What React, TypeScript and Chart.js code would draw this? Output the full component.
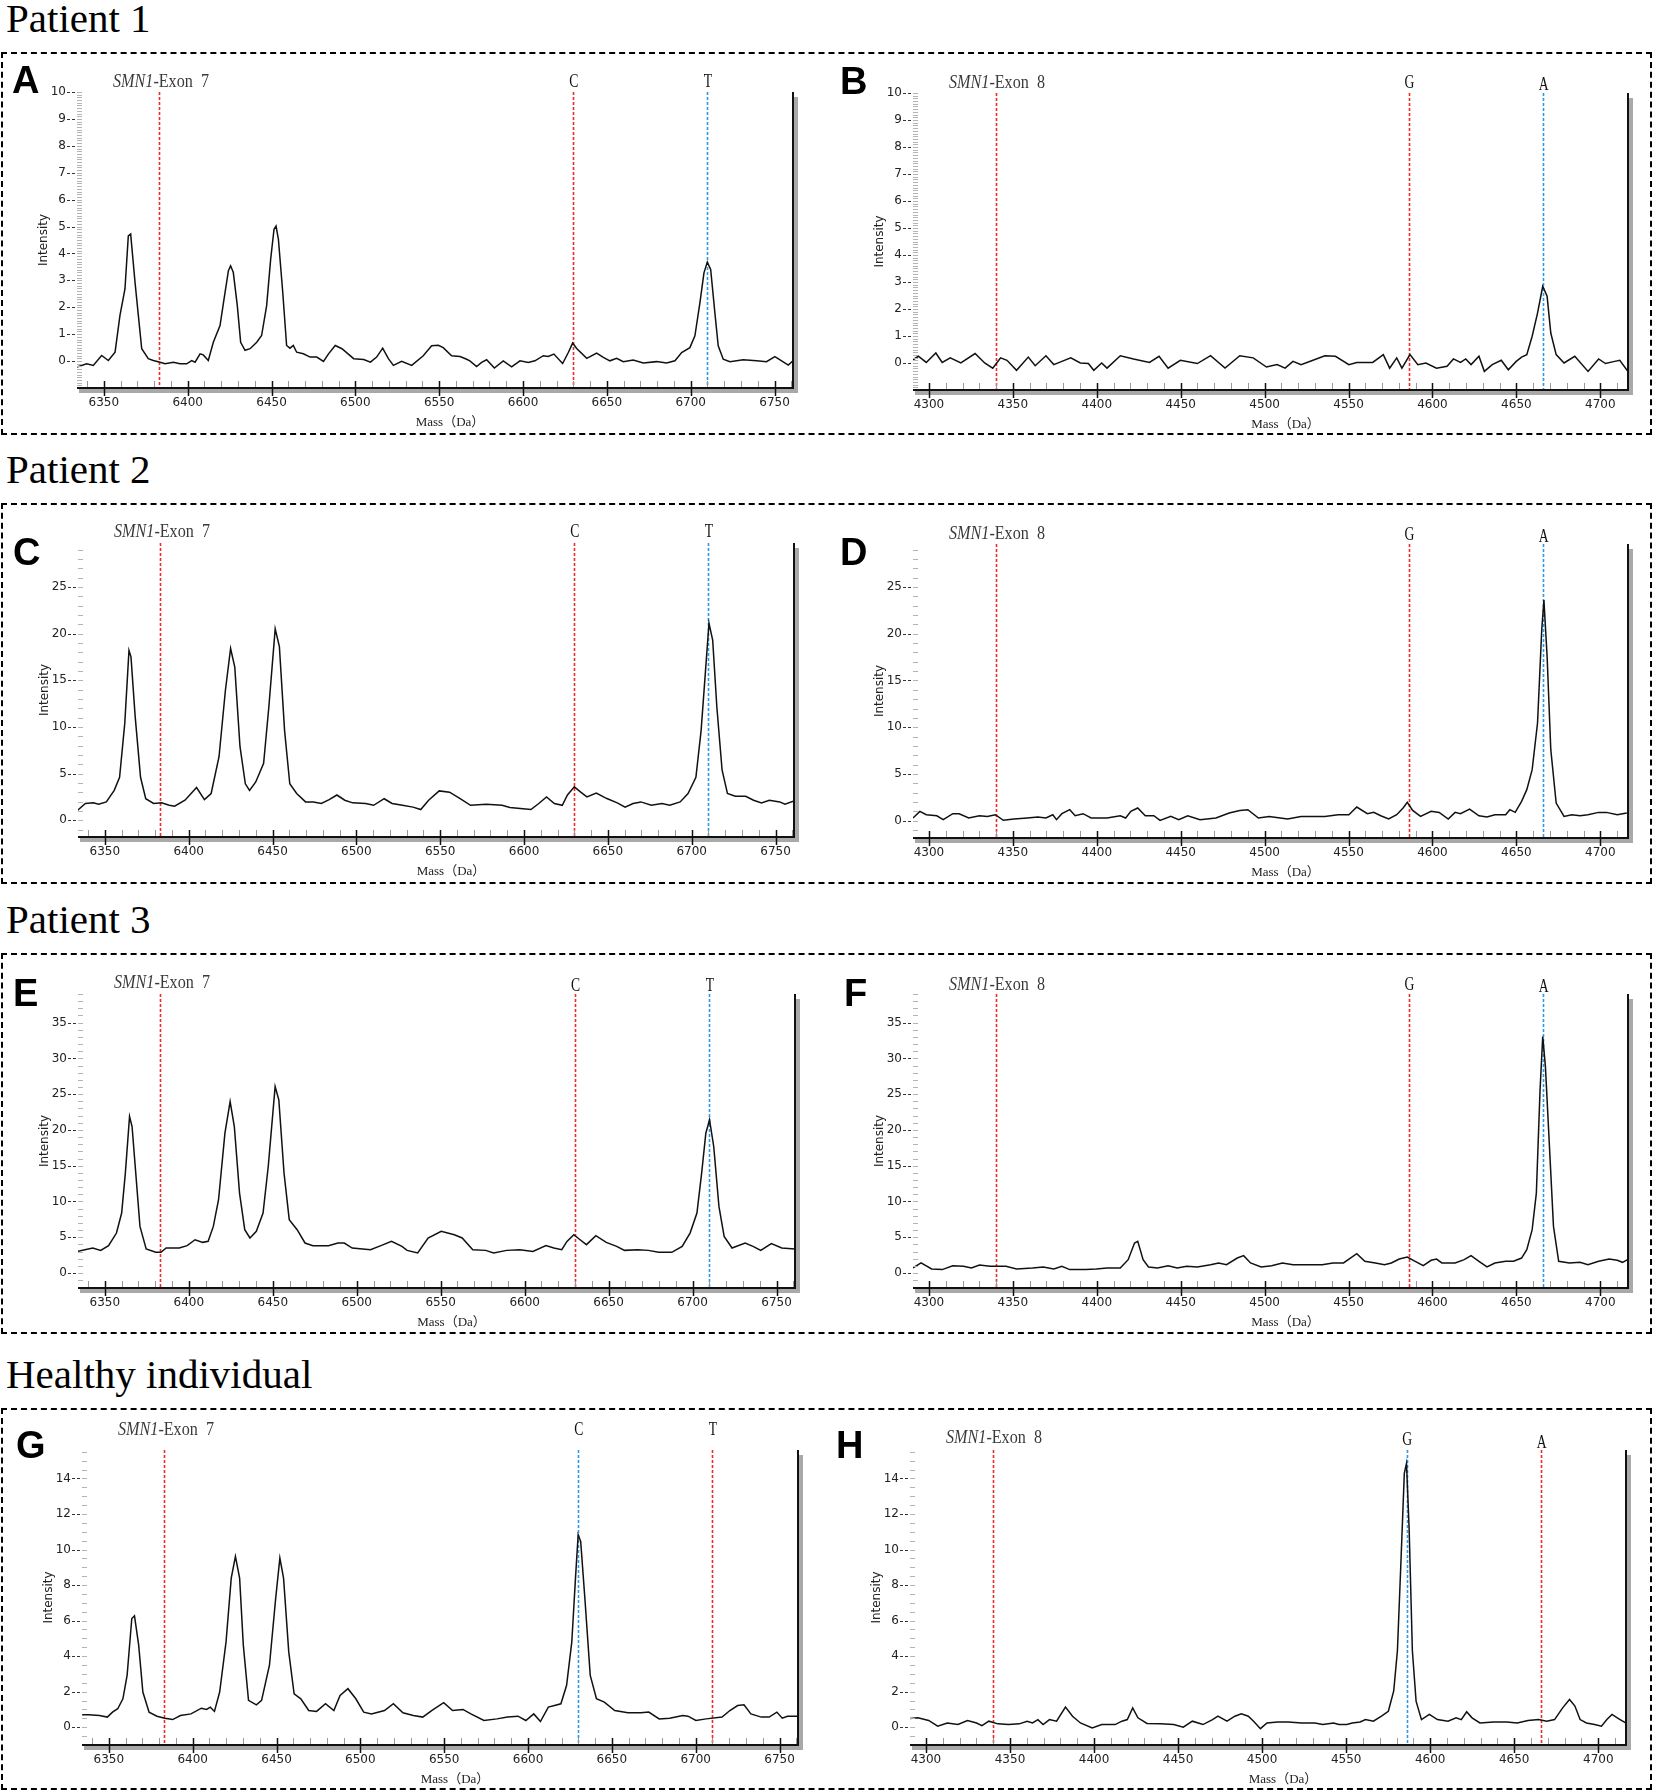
import { useEffect, useRef } from 'react';
import { Chart, registerables } from 'chart.js';

Chart.register(...registerables);

type Pt = [number, number];

// mass (Da) / intensity pairs
const spectrumA: Pt[] = [
  [6334, -0.22], [6339.8, -0.1], [6343.7, -0.16], [6348.7, 0.21], [6352.7, 0.02], [6356.7, 0.33], [6359.6, 1.69],
  [6362.6, 2.68], [6364.6, 4.65], [6366, 4.72], [6368.6, 2.93], [6370.6, 1.69], [6372.6, 0.46], [6376.5, 0.09],
  [6379.5, 0.02], [6383.5, -0.04], [6386.5, -0.1], [6391.5, -0.04], [6395.4, -0.1], [6399.4, -0.1], [6402.4, 0.02],
  [6404.4, -0.04], [6407.4, 0.27], [6409.3, 0.23], [6412.3, 0.02], [6415.3, 0.7], [6419.3, 1.32], [6421.7, 2.31],
  [6424.3, 3.36], [6425.6, 3.54], [6427.2, 3.3], [6429.6, 2.06], [6431.6, 0.7], [6434.2, 0.4], [6437.2, 0.46],
  [6441.2, 0.7], [6444.1, 0.95], [6447.1, 2.06], [6449.5, 3.79], [6451.5, 4.9], [6452.7, 5.02], [6454.1, 4.53],
  [6456.7, 2.56], [6459, 0.58], [6461, 0.48], [6463, 0.58], [6465, 0.33], [6469, 0.27], [6473, 0.15], [6477, 0.15],
  [6481, -0.01], [6484, 0.27], [6488, 0.58], [6492, 0.46], [6499, 0.09], [6505, 0.06], [6509, -0.04], [6512.7, 0.15],
  [6516.3, 0.48], [6519.7, 0.09], [6522.7, -0.16], [6527.6, -0.01], [6533.6, -0.16], [6540.5, 0.2], [6545.5, 0.57],
  [6549.5, 0.59], [6552.4, 0.5], [6557.4, 0.2], [6562.4, 0.17], [6566.4, 0.07], [6568.3, 0.01], [6572.3, -0.2],
  [6575.3, -0.05], [6578.3, 0.05], [6582.9, -0.26], [6588.2, 0.01], [6593.2, -0.21], [6598.2, 0.01], [6603.1, -0.05],
  [6607.1, 0.01], [6612.1, 0.2], [6615, 0.17], [6618.4, 0.26], [6623.6, -0.09], [6627, 0.32], [6629.6, 0.67],
  [6632, 0.47], [6638, 0.1], [6643.9, 0.3], [6647.9, 0.14], [6651.8, 0.01], [6655.8, 0.1], [6659.8, -0.02],
  [6665.7, 0.04], [6671.7, -0.07], [6679.6, -0.02], [6685.6, -0.07], [6690.6, 0.01], [6694.6, 0.32], [6699.5, 0.5],
  [6702.5, 0.94], [6705.5, 2.17], [6707.9, 3.28], [6709.9, 3.68], [6711.9, 3.41], [6714.4, 1.8], [6716.4, 0.57],
  [6719.4, 0.07], [6723.4, -0.02], [6731.3, 0.05], [6739.3, 0.01], [6745.2, -0.02], [6750.2, 0.17], [6754.2, 0.01],
  [6758.2, -0.15], [6761, 0.01],
];

const spectrumB: Pt[] = [
  [4290.5, 0.12], [4293.7, 0.25], [4298.4, 0.02], [4304.1, 0.37], [4307.9, 0.02], [4312.7, 0.19], [4319, 0],
  [4327.5, 0.35], [4333.2, 0], [4338, -0.19], [4342.7, 0.19], [4346.5, 0.1], [4352.2, -0.27], [4359.2, 0.22],
  [4363.3, -0.1], [4369.7, 0.27], [4374.4, -0.06], [4379.2, 0.06], [4384.5, 0.19], [4390.2, 0], [4395, -0.02],
  [4398.2, -0.27], [4402.9, 0], [4406.1, -0.19], [4414, 0.27], [4421.9, 0.15], [4431.4, 0.02], [4437.1, 0.25],
  [4442.5, -0.19], [4449.8, 0.1], [4459.9, -0.02], [4467.8, 0.27], [4476.4, -0.19], [4485.2, 0.27], [4493.2, 0.19],
  [4501.1, -0.15], [4507.4, -0.06], [4512.2, -0.19], [4516.9, 0.06], [4521.7, -0.06], [4529.6, 0.12], [4535.9, 0.27],
  [4542.2, 0.25], [4550.2, -0.06], [4554.9, 0.02], [4564.4, 0.02], [4570.7, 0.31], [4574.5, -0.19], [4578.7, 0.19],
  [4581.8, -0.19], [4586.6, 0.31], [4591.3, -0.06], [4596.1, 0], [4602.4, -0.19], [4608.7, -0.12], [4612.5, 0.15],
  [4616.7, 0.02], [4619.8, 0.15], [4623, -0.06], [4627.7, 0.25], [4630.9, -0.31], [4635.6, -0.06], [4641, 0.1],
  [4645.2, -0.25], [4649.9, 0.06], [4653.1, 0.22], [4656.2, 0.31], [4659.4, 0.99], [4662.6, 1.85], [4665.7, 2.84],
  [4668.3, 2.47], [4670.5, 1.11], [4673.7, 0.31], [4678.4, 0], [4684.8, 0.25], [4692.7, -0.31], [4699, 0.15],
  [4703.1, -0.02], [4708.5, 0.06], [4711.6, 0.1], [4716.4, -0.31],
];

const spectrumC: Pt[] = [
  [6333.8, 1.07], [6338.4, 1.79], [6343.1, 1.86], [6346.3, 1.71], [6350.9, 1.96], [6355.6, 3.2], [6358.8, 4.6],
  [6361.9, 10.4], [6364.4, 18.2], [6365.6, 17.5], [6368.1, 11.1], [6371.3, 4.6], [6374.4, 2.3], [6379.1, 1.8],
  [6383.8, 1.86], [6388.4, 1.6], [6391.6, 1.5], [6397.8, 2.14], [6404.7, 3.5], [6409.4, 2.2], [6413.4, 2.86],
  [6418.1, 6.8], [6421.9, 13.9], [6425, 18.4], [6427.5, 16.4], [6430.6, 7.9], [6433.8, 3.9], [6436.3, 3.2],
  [6440, 4.1], [6444.7, 6.1], [6447.8, 12.1], [6451.6, 20.5], [6454.1, 18.6], [6457.2, 9.6], [6460.3, 3.9],
  [6464.4, 2.86], [6469.7, 1.96], [6474.4, 1.96], [6479.1, 1.79], [6483.8, 2.2], [6488.4, 2.7], [6493.1, 2.14],
  [6497.8, 1.86], [6505.6, 1.79], [6510.3, 1.6], [6516.6, 2.3], [6521.3, 1.79], [6527.5, 1.6], [6533.8, 1.4],
  [6538.4, 1.14], [6543.1, 2.14], [6549.4, 3.14], [6555.6, 3.0], [6561.9, 2.3], [6568.1, 1.6], [6577.5, 1.71],
  [6586.9, 1.6], [6591.6, 1.36], [6597.8, 1.25], [6604.1, 1.14], [6608.8, 1.79], [6613.4, 2.5], [6618.1, 1.79],
  [6622.8, 1.6], [6625.9, 2.7], [6630, 3.57], [6633.8, 3.0], [6637.5, 2.5], [6643.1, 2.9], [6649.4, 2.32],
  [6655.6, 1.86], [6660.3, 1.4], [6665, 1.79], [6669.7, 1.96], [6675.9, 1.6], [6682.2, 1.79], [6686.9, 1.6],
  [6693.1, 1.96], [6697.8, 2.86], [6702.5, 4.6], [6705.6, 9.6], [6708.1, 15.7], [6710.3, 21.1], [6712.5, 19.3],
  [6715, 12.1], [6718.1, 5.4], [6721.3, 2.86], [6726, 2.57], [6732.2, 2.57], [6736.9, 2.14], [6741.6, 1.86],
  [6746.3, 2.14], [6752.5, 1.96], [6755.6, 1.71], [6761, 2.07],
];

const spectrumD: Pt[] = [
  [4290.5, 0.29], [4294.6, 1.0], [4298.4, 0.64], [4304.7, 0.53], [4308.5, 0.11], [4314.2, 0.75], [4318, 0.75],
  [4323.7, 0.29], [4330.1, 0.53], [4334.8, 0.46], [4339.6, 0.64], [4344.3, 0.04], [4350.7, 0.18], [4358.6, 0.29],
  [4364.9, 0.39], [4369.7, 0.29], [4373.8, 0.64], [4376, 0.11], [4379.2, 0.75], [4383.9, 1.18], [4387.1, 0.53],
  [4391.8, 0.75], [4396.6, 0.29], [4406.1, 0.29], [4414, 0.53], [4417.2, 0.29], [4420.3, 1.0], [4424.4, 1.36],
  [4428.9, 0.53], [4434, 0.53], [4437.7, 0.04], [4444.1, 0.46], [4448.8, 0.11], [4454.2, 0.53], [4461.5, 0.11],
  [4471, 0.29], [4478.9, 0.82], [4485.2, 1.1], [4490, 1.18], [4496.3, 0.29], [4502.7, 0.46], [4513.7, 0.18],
  [4521.7, 0.46], [4535.9, 0.46], [4543.8, 0.64], [4550.2, 0.64], [4554.9, 1.46], [4561.2, 0.75], [4565, 0.89],
  [4569.2, 0.53], [4573.9, 0.18], [4578.7, 0.64], [4582.5, 1.36], [4585, 1.96], [4588.2, 1.1], [4592.9, 0.46],
  [4599.2, 1.0], [4604, 0.89], [4609.4, 0.18], [4613.5, 0.89], [4616.7, 0.75], [4622.1, 1.25], [4627.7, 0.53],
  [4632.5, 0.39], [4637.2, 0.64], [4643.6, 0.64], [4646.1, 1.18], [4649.3, 0.89], [4653.1, 2.07], [4656.2, 3.32],
  [4659.4, 5.46], [4662.6, 10.45], [4665.1, 20.4], [4666.4, 23.6], [4668.3, 17.6], [4670.5, 7.6], [4673.7, 1.89],
  [4678.4, 0.46], [4683.1, 0.64], [4687.9, 0.53], [4692.6, 0.64], [4699, 0.89], [4703.7, 0.89], [4710.1, 0.64],
  [4715.8, 0.82],
];

const spectrumE: Pt[] = [
  [6333.5, 3.02], [6338.1, 3.26], [6342.8, 3.49], [6347.5, 3.16], [6352.2, 3.82], [6356.9, 5.58], [6360, 8.38],
  [6362.2, 13.96], [6364.7, 21.87], [6366.2, 20.47], [6368.4, 13.96], [6370.9, 6.51], [6374.6, 3.35], [6380.3, 2.89],
  [6383.4, 2.89], [6386.5, 3.49], [6394.3, 3.49], [6399, 3.82], [6403.7, 4.65], [6408.3, 4.28], [6411.5, 4.42],
  [6414.6, 6.51], [6417.7, 10.24], [6421.5, 19.54], [6424.6, 23.96], [6427.1, 20.47], [6430.2, 11.17], [6433.3, 6.05],
  [6436.4, 4.89], [6440.2, 5.82], [6444.2, 8.38], [6447.3, 14.89], [6451.4, 26.06], [6453.6, 24.2], [6456.7, 13.96],
  [6459.8, 7.45], [6464.5, 6.05], [6469.2, 4.19], [6473.9, 3.82], [6483.2, 3.82], [6488.8, 4.19], [6492.6, 4.19],
  [6497.3, 3.49], [6508.2, 3.26], [6514.4, 3.82], [6520.7, 4.42], [6526.9, 3.72], [6530, 3.16], [6536.3, 2.79],
  [6542.5, 4.89], [6550.3, 5.82], [6558.1, 5.35], [6562.8, 4.89], [6569.1, 3.26], [6576.8, 3.16], [6581.5, 2.79],
  [6589.3, 3.16], [6597.1, 3.26], [6604.9, 3.02], [6612.7, 3.82], [6617.4, 3.49], [6622.1, 3.26], [6625.2, 4.42],
  [6629.3, 5.35], [6633, 4.65], [6636.8, 3.96], [6642.4, 5.21], [6648.6, 4.28], [6654.8, 3.72], [6659.5, 3.16],
  [6667.3, 3.26], [6673.6, 3.16], [6679.8, 2.89], [6687.6, 2.89], [6693.8, 3.72], [6698.5, 5.58], [6702.6, 8.38],
  [6705.4, 13.96], [6707.9, 19.54], [6710.1, 21.4], [6712.6, 17.68], [6715.7, 9.31], [6718.8, 5.12], [6723.5, 3.49],
  [6731.3, 4.19], [6736, 3.72], [6740.6, 3.16], [6746.9, 4.1], [6753.1, 3.49], [6761, 3.35],
];

const spectrumF: Pt[] = [
  [4290.5, 0.7], [4295.3, 1.4], [4301.6, 0.56], [4307.9, 0.47], [4314.2, 1.02], [4320.6, 0.93], [4325.3, 0.7],
  [4330.1, 1.12], [4336.4, 0.93], [4345.9, 0.93], [4352.2, 0.56], [4361.7, 0.7], [4368.1, 0.84], [4374.4, 0.56],
  [4379.2, 0.93], [4383.9, 0.47], [4393.4, 0.47], [4399.7, 0.56], [4406.1, 0.7], [4414, 0.7], [4418.7, 1.86],
  [4422.5, 4.19], [4424.4, 4.42], [4427.6, 1.86], [4430.8, 0.84], [4436.2, 0.7], [4442.5, 1.02], [4447.9, 0.7],
  [4453.6, 0.93], [4459.9, 0.84], [4467.8, 1.16], [4472.6, 1.4], [4477.3, 1.16], [4483.7, 2.09], [4487.5, 2.42],
  [4491.6, 1.4], [4497.9, 0.84], [4504.2, 1.02], [4510.6, 1.4], [4516.9, 1.16], [4526.4, 1.16], [4534.3, 1.16],
  [4540.7, 1.4], [4547, 1.4], [4551.1, 2.09], [4554.9, 2.7], [4559.7, 1.63], [4566, 1.4], [4571.4, 1.16],
  [4575.5, 1.4], [4580.2, 1.95], [4585, 2.23], [4589.7, 1.63], [4594.5, 1.02], [4599.2, 1.77], [4602.4, 1.95],
  [4605.6, 1.4], [4613.5, 1.4], [4618.9, 1.86], [4623, 2.42], [4627.7, 1.63], [4632.5, 0.84], [4637.2, 1.4],
  [4643.6, 1.63], [4648.3, 1.63], [4653.1, 2.09], [4656.2, 3.26], [4659.4, 6.05], [4661.9, 11.17], [4664.1, 25.59],
  [4665.7, 33.04], [4667.3, 28.85], [4669.5, 18.61], [4672.1, 6.51], [4675.2, 1.63], [4681.6, 1.4], [4687.9, 1.49],
  [4692.6, 1.16], [4699, 1.63], [4705.3, 1.95], [4710.1, 1.77], [4713.2, 1.49], [4716.3, 1.86],
];

const spectrumG: Pt[] = [
  [6334.1, 0.7], [6338.1, 0.7], [6344.4, 0.66], [6349.1, 0.57], [6352.2, 0.85], [6355.3, 1.04], [6358.4, 1.6],
  [6360.9, 2.92], [6363.7, 6.12], [6365.3, 6.27], [6367.8, 4.62], [6370.3, 1.98], [6374, 0.85], [6378.7, 0.62],
  [6383.4, 0.51], [6388.1, 0.43], [6392.7, 0.66], [6399, 0.75], [6405.2, 1.07], [6408.3, 1.0], [6410.5, 1.13],
  [6413, 0.89], [6416.1, 1.98], [6419.9, 4.8], [6423, 8.39], [6425.5, 9.61], [6428, 8.39], [6430.2, 4.62],
  [6433.3, 1.51], [6438, 1.26], [6441.1, 1.51], [6445.8, 3.49], [6449.5, 7.25], [6452, 9.52], [6454.2, 8.39],
  [6457.3, 4.24], [6460.5, 1.88], [6464.5, 1.6], [6469.2, 0.94], [6473.9, 0.89], [6479.2, 1.32], [6484.2, 0.94],
  [6487.9, 1.79], [6492.6, 2.17], [6497.3, 1.6], [6502, 0.85], [6506.6, 0.75], [6514.4, 0.94], [6519.7, 1.32],
  [6525.4, 0.81], [6531.6, 0.66], [6537.2, 0.57], [6542.5, 0.94], [6549.7, 1.38], [6555, 0.94], [6561.2, 1.0],
  [6565.9, 0.75], [6573.7, 0.38], [6581.5, 0.47], [6587.8, 0.57], [6594, 0.62], [6598.7, 0.38], [6603.4, 0.75],
  [6607.4, 0.32], [6612.1, 1.13], [6615.8, 1.22], [6619.6, 1.32], [6623, 2.36], [6626.1, 4.8], [6628.3, 8.39],
  [6629.9, 10.83], [6631.4, 10.46], [6633.9, 7.25], [6637.1, 2.92], [6640.8, 1.6], [6645.5, 1.41], [6651.7, 0.94],
  [6659.5, 0.81], [6667.3, 0.81], [6672, 0.85], [6678.2, 0.47], [6684.5, 0.51], [6692.3, 0.66], [6695.4, 0.62],
  [6700.1, 0.38], [6706.3, 0.47], [6715.7, 0.57], [6720.4, 0.94], [6725, 1.22], [6728.8, 1.26], [6732.9, 0.75],
  [6739.1, 0.57], [6743.8, 0.57], [6748.4, 0.85], [6751.6, 0.51], [6754.7, 0.62], [6761, 0.62],
];

const spectrumH: Pt[] = [
  [4290.5, 0.49], [4295.2, 0.53], [4301.6, 0.38], [4307, 0.06], [4312.7, 0.24], [4319, 0.15], [4324.7, 0.38],
  [4330.1, 0.24], [4333.3, 0.09], [4337.4, 0.34], [4342.8, 0.19], [4349.1, 0.15], [4355.5, 0.19], [4360.2, 0.34],
  [4363.4, 0.24], [4366.6, 0.43], [4369.7, 0.15], [4373.5, 0.43], [4377.7, 0.34], [4383, 1.13], [4387.2, 0.62],
  [4391.9, 0.24], [4398.9, -0.04], [4404.6, 0.15], [4412.5, 0.15], [4416.6, 0.34], [4419.8, 0.43], [4423, 1.09],
  [4426.1, 0.53], [4431.5, 0.21], [4439.5, 0.19], [4447.4, 0.15], [4453.1, 0], [4458.5, 0.34], [4464.8, 0.15],
  [4470.5, 0.43], [4473.7, 0.62], [4479.1, 0.34], [4483.8, 0.62], [4487.6, 0.75], [4491.8, 0.62], [4494.9, 0.34],
  [4499, -0.08], [4502.9, 0.24], [4509.2, 0.3], [4515.5, 0.3], [4523.5, 0.24], [4531.4, 0.24], [4536.1, 0.15],
  [4542.5, 0.24], [4545.6, 0.15], [4550.4, 0.15], [4553.6, 0.24], [4558.3, 0.3], [4561.5, 0.43], [4566.2, 0.34],
  [4571, 0.62], [4575.1, 0.9], [4578.3, 2.04], [4580.5, 4.3], [4582.7, 9.57], [4584.6, 14.28], [4585.9, 14.85],
  [4587.5, 11.08], [4589.4, 4.3], [4591.6, 1.47], [4594.8, 0.43], [4599.5, 0.72], [4604.3, 0.43], [4610.6, 0.34],
  [4615.4, 0.53], [4618.5, 0.43], [4621.7, 0.87], [4624.9, 0.53], [4629.6, 0.24], [4637.6, 0.3], [4645.5, 0.3],
  [4651.8, 0.24], [4658.2, 0.38], [4664.5, 0.43], [4669.3, 0.34], [4674, 0.43], [4678.8, 1.09], [4682.9, 1.56],
  [4686.1, 1.19], [4689.2, 0.43], [4693, 0.24], [4697.8, 0.15], [4701.9, 0.06], [4705.1, 0.43], [4708.2, 0.72],
  [4712, 0.49], [4716.3, 0.24],
];

const exon7Ticks = [6350, 6400, 6450, 6500, 6550, 6600, 6650, 6700, 6750];
const exon8Ticks = [4300, 4350, 4400, 4450, 4500, 4550, 4600, 4650, 4700];
const exon7Range = [6334, 6761];
const exon8Range = [4290.5, 4716.5];
const exon7Markers = [6383, 6630, 6710];
const exon8Markers = [4340, 4586, 4666];
const exon7Alleles = ['', 'C', 'T'];
const exon8Alleles = ['', 'G', 'A'];

const yTicks10 = [0, 1, 2, 3, 4, 5, 6, 7, 8, 9, 10];
const yTicks25 = [0, 5, 10, 15, 20, 25];
const yTicks35 = [0, 5, 10, 15, 20, 25, 30, 35];
const yTicks14 = [0, 2, 4, 6, 8, 10, 12, 14];

const RED = '#ee2a2a';
const BLUE = '#2b9ae6';

const sections = [
  { text: 'Patient 1', top: -2 },
  { text: 'Patient 2', top: 449 },
  { text: 'Patient 3', top: 899 },
  { text: 'Healthy individual', top: 1354 },
];
const boxes = [
  { top: 52, height: 383 },
  { top: 503, height: 381 },
  { top: 953, height: 381 },
  { top: 1408, height: 382 },
];

type Panel = {
  letter: string;
  exon: 7 | 8;
  data: Pt[];
  yTicks: number[];
  yMin: number;
  yMax: number;
  yMinor: number;
  colors: string[];
  left: number;
  top: number;
  width: number;
  height: number;
  titleGap: number;
  labelGaps: number[];
  letterX: number;
  letterY: number;
};

const panels: Panel[] = [
  { letter: 'A', exon: 7, data: spectrumA, yTicks: yTicks10, yMin: -1, yMax: 10, yMinor: 0.1, colors: [RED, RED, BLUE],
    left: 77, top: 92, width: 716, height: 296, titleGap: 5, labelGaps: [0, 5, 5], letterX: 12, letterY: 66 },
  { letter: 'B', exon: 8, data: spectrumB, yTicks: yTicks10, yMin: -1, yMax: 10, yMinor: 0.1, colors: [RED, RED, BLUE],
    left: 913, top: 93, width: 715, height: 297, titleGap: 5, labelGaps: [0, 5, 3], letterX: 840, letterY: 67 },
  { letter: 'C', exon: 7, data: spectrumC, yTicks: yTicks25, yMin: -1.8, yMax: 29.7, yMinor: 1, colors: [RED, RED, BLUE],
    left: 78, top: 543, width: 716, height: 294, titleGap: 6, labelGaps: [0, 6, 6], letterX: 13, letterY: 538 },
  { letter: 'D', exon: 8, data: spectrumD, yTicks: yTicks25, yMin: -1.85, yMax: 29.6, yMinor: 1, colors: [RED, RED, BLUE],
    left: 913, top: 544, width: 715, height: 294, titleGap: 5, labelGaps: [0, 4, 2], letterX: 840, letterY: 538 },
  { letter: 'E', exon: 7, data: spectrumE, yTicks: yTicks35, yMin: -2.1, yMax: 39, yMinor: 1, colors: [RED, RED, BLUE],
    left: 78, top: 994, width: 717, height: 294, titleGap: 6, labelGaps: [0, 3, 3], letterX: 13, letterY: 979 },
  { letter: 'F', exon: 8, data: spectrumF, yTicks: yTicks35, yMin: -2.1, yMax: 39, yMinor: 1, colors: [RED, RED, BLUE],
    left: 913, top: 994, width: 715, height: 294, titleGap: 4, labelGaps: [0, 4, 2], letterX: 844, letterY: 979 },
  { letter: 'G', exon: 7, data: spectrumG, yTicks: yTicks14, yMin: -1, yMax: 15.6, yMinor: 0.5, colors: [RED, BLUE, RED],
    left: 82, top: 1450, width: 716, height: 295, titleGap: 15, labelGaps: [0, 15, 15], letterX: 16, letterY: 1431 },
  { letter: 'H', exon: 8, data: spectrumH, yTicks: yTicks14, yMin: -1, yMax: 15.6, yMinor: 0.5, colors: [RED, BLUE, RED],
    left: 910, top: 1450, width: 716, height: 295, titleGap: 7, labelGaps: [0, 5, 2], letterX: 836, letterY: 1431 },
];

const PAD_L = 60;
const PAD_R = 14;
const PAD_T = 60;
const PAD_B = 48;

const tickFont = { family: '"DejaVu Sans", sans-serif', size: 12 };

function decorPlugin(p: Panel) {
  const markers = p.exon === 7 ? exon7Markers : exon8Markers;
  const alleles = p.exon === 7 ? exon7Alleles : exon8Alleles;
  const xTicks = p.exon === 7 ? exon7Ticks : exon8Ticks;
  const seg = (ctx, x1, y1, x2, y2) => {
    ctx.beginPath();
    ctx.moveTo(x1, y1);
    ctx.lineTo(x2, y2);
    ctx.stroke();
  };
  return {
    id: 'decor',
    beforeDatasetsDraw(chart) {
      const { ctx, chartArea: { left, top, bottom }, scales: { x } } = chart;
      ctx.save();
      ctx.lineWidth = 1.6;
      ctx.setLineDash([3, 2]);
      markers.forEach((m, i) => {
        const px = Math.round(x.getPixelForValue(m)) + 0.5;
        ctx.strokeStyle = p.colors[i];
        seg(ctx, px, top, px, bottom);
      });
      ctx.setLineDash([]);
      ctx.fillStyle = '#111';
      ctx.font = '19px "Liberation Serif", serif';
      ctx.textAlign = 'center';
      ctx.textBaseline = 'alphabetic';
      markers.forEach((m, i) => {
        if (!alleles[i]) return;
        ctx.save();
        ctx.translate(x.getPixelForValue(m) + 0.5, top - p.labelGaps[i]);
        ctx.scale(0.72, 1);
        ctx.fillText(alleles[i], 0, 0);
        ctx.restore();
      });
      // gene / exon title, narrow serif
      ctx.save();
      ctx.translate(left + 36, top - p.titleGap);
      ctx.scale(0.85, 1);
      ctx.textAlign = 'left';
      ctx.fillStyle = '#3a3a3a';
      ctx.font = 'italic 19px "Liberation Serif", serif';
      ctx.fillText('SMN1', 0, 0);
      const w = ctx.measureText('SMN1').width;
      ctx.font = '19px "Liberation Serif", serif';
      ctx.fillText('-Exon  ' + p.exon, w, 0);
      ctx.restore();
      ctx.restore();
    },
    afterDatasetsDraw(chart) {
      const { ctx, chartArea: { left, right, top, bottom }, scales: { x, y } } = chart;
      ctx.save();
      // frame shadows
      ctx.fillStyle = '#a9a9a9';
      ctx.fillRect(left + 2, bottom + 1, right - left + 3, 4);
      ctx.fillRect(right + 1, top + 5, 4, bottom - top);
      // y minor dashes
      ctx.strokeStyle = '#b4b4b4';
      ctx.lineWidth = 1;
      const k0 = Math.ceil(p.yMin / p.yMinor - 1e-6);
      const k1 = Math.floor(p.yMax / p.yMinor + 1e-6);
      for (let k = k0; k <= k1; k++) {
        const py = Math.round(y.getPixelForValue(k * p.yMinor)) + 0.5;
        seg(ctx, left, py, left + 5, py);
      }
      // y major ticks
      ctx.strokeStyle = '#333';
      ctx.lineWidth = 1.2;
      ctx.setLineDash([3, 2]);
      p.yTicks.forEach((v) => {
        const py = Math.round(y.getPixelForValue(v)) + 0.5;
        seg(ctx, left - 10, py, left, py);
      });
      ctx.setLineDash([]);
      // x minor ticks
      ctx.strokeStyle = '#999';
      ctx.lineWidth = 1;
      for (let m = Math.ceil(x.min / 10) * 10; m <= x.max; m += 10) {
        const px = Math.round(x.getPixelForValue(m)) + 0.5;
        seg(ctx, px, bottom - 7, px, bottom);
      }
      // x major ticks
      ctx.strokeStyle = '#111';
      ctx.lineWidth = 1.5;
      xTicks.forEach((m) => {
        const px = Math.round(x.getPixelForValue(m)) + 0.5;
        seg(ctx, px, bottom - 7, px, bottom + 8);
      });
      // axis and right border
      ctx.lineWidth = 2;
      seg(ctx, left, bottom, right + 1, bottom);
      seg(ctx, right, top, right, bottom);
      // x title
      ctx.fillStyle = '#222';
      ctx.font = '13px "Liberation Serif", "Noto Sans CJK SC", serif';
      ctx.textAlign = 'center';
      ctx.textBaseline = 'alphabetic';
      ctx.fillText('Mass（Da）', (left + right) / 2 + 15, bottom + 38);
      ctx.restore();
    },
  };
}

function SpectrumPanel({ panel }: { panel: Panel }) {
  const canvasRef = useRef(null);
  const w = panel.width + PAD_L + PAD_R;
  const h = panel.height + PAD_T + PAD_B;

  useEffect(() => {
    const range = panel.exon === 7 ? exon7Range : exon8Range;
    const xTicks = panel.exon === 7 ? exon7Ticks : exon8Ticks;
    const chart = new Chart(canvasRef.current, {
      type: 'line',
      data: {
        datasets: [{
          data: panel.data.map(([m, v]) => ({ x: m, y: v })),
          borderColor: '#111',
          borderWidth: 1.5,
          pointRadius: 0,
          tension: 0,
          fill: false,
        }],
      },
      options: {
        animation: false,
        responsive: false,
        maintainAspectRatio: false,
        layout: { padding: { top: PAD_T, right: PAD_R, left: 0, bottom: 0 } },
        plugins: { legend: { display: false }, tooltip: { enabled: false } },
        scales: {
          x: {
            type: 'linear',
            min: range[0],
            max: range[1],
            afterBuildTicks: (s) => { s.ticks = xTicks.map((v) => ({ value: v })); },
            afterFit: (s) => { s.height = PAD_B; },
            grid: { display: false, drawTicks: false },
            border: { display: false },
            ticks: {
              autoSkip: false,
              maxRotation: 0,
              padding: 8,
              color: '#222',
              font: tickFont,
              callback: (v) => String(v),
            },
          },
          y: {
            type: 'linear',
            min: panel.yMin,
            max: panel.yMax,
            afterBuildTicks: (s) => { s.ticks = panel.yTicks.map((v) => ({ value: v })); },
            afterFit: (s) => { s.width = PAD_L; },
            grid: { display: false, drawTicks: false },
            border: { display: false },
            ticks: {
              padding: 11,
              color: '#222',
              font: tickFont,
              callback: (v) => String(v),
            },
            title: {
              display: true,
              text: 'Intensity',
              color: '#222',
              font: tickFont,
              padding: { top: 20, bottom: 0 },
            },
          },
        },
      },
      plugins: [decorPlugin(panel)],
    });
    return () => {
      chart.destroy();
    };
  }, [panel]);

  return (
    <canvas
      ref={canvasRef}
      width={w}
      height={h}
      style={{ position: 'absolute', left: panel.left - PAD_L, top: panel.top - PAD_T, width: w, height: h }}
    />
  );
}

export default function App() {
  return (
    <div style={{ position: 'absolute', left: 0, top: 0, width: 1654, height: 1792, background: '#fff', overflow: 'hidden' }}>
      {sections.map((s) => (
        <div
          key={s.text}
          style={{
            position: 'absolute', left: 6, top: s.top, whiteSpace: 'nowrap', color: '#000',
            fontFamily: '"Liberation Serif", serif', fontSize: 41, lineHeight: '41px',
          }}
        >
          {s.text}
        </div>
      ))}
      {boxes.map((b) => (
        <div
          key={b.top}
          style={{
            position: 'absolute', left: 1, top: b.top, width: 1651, height: b.height,
            border: '2px dashed #000', boxSizing: 'border-box',
          }}
        />
      ))}
      {panels.map((p) => (
        <SpectrumPanel key={p.letter} panel={p} />
      ))}
      {panels.map((p) => (
        <div
          key={'l' + p.letter}
          style={{
            position: 'absolute', left: p.letterX, top: p.letterY - 5, color: '#000',
            fontFamily: '"Liberation Sans", Arial, sans-serif', fontWeight: 'bold', fontSize: 38, lineHeight: '38px',
          }}
        >
          {p.letter}
        </div>
      ))}
    </div>
  );
}
